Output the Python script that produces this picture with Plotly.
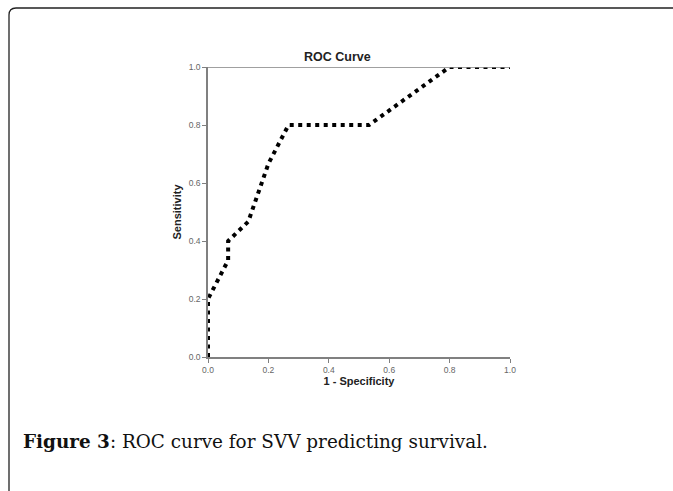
import plotly.graph_objects as go

# ROC curve data (1 - specificity, sensitivity)
fpr = [0.0, 0.0, 0.0667, 0.0667, 0.1333, 0.2, 0.2667, 0.5333, 0.8, 1.0]
tpr = [0.0, 0.2, 0.3333, 0.4, 0.4667, 0.6667, 0.8, 0.8, 1.0, 1.0]
tick_vals = [0.0, 0.2, 0.4, 0.6, 0.8, 1.0]
tick_text = ["0.0", "0.2", "0.4", "0.6", "0.8", "1.0"]

W, H = 673, 491
L, R, T, B = 208, 510, 67, 357  # plot area in pixels


def px(x):
    return (x - L) / (R - L)


def py(y):
    return (B - y) / (B - T)


fig = go.Figure()
fig.add_trace(go.Scatter(
    x=fpr, y=tpr, mode="lines",
    line=dict(color="black", width=4, dash="4px,4.5px"),
    cliponaxis=False, hoverinfo="skip", showlegend=False,
))

axis_common = dict(
    range=[0, 1], tickvals=tick_vals, ticktext=tick_text,
    showgrid=False, zeroline=False, showline=True,
    linecolor="#808080", linewidth=1.5,
    ticks="outside", ticklen=4, tickwidth=1, tickcolor="#808080",
    tickfont=dict(family="Liberation Sans", size=8.5, color="#666666"),
    fixedrange=True,
)
fig.update_xaxes(**axis_common,
                 title=dict(text="<b>1 - Specificity</b>", standoff=3,
                            font=dict(family="Liberation Sans", size=11, color="#222222")))
fig.update_yaxes(**axis_common,
                 title=dict(text="<b>Sensitivity</b>", standoff=5,
                            font=dict(family="Liberation Sans", size=11, color="#222222")))

# top frame line of the chart
fig.add_shape(type="line", xref="x", yref="y", x0=0, x1=1, y0=1, y1=1,
              line=dict(color="#808080", width=1.5))

# outer rounded border (partial box)
x0b, y0b, r = 9, 8, 7
path = (f"M {px(x0b)} {py(H + 5)} L {px(x0b)} {py(y0b + r)} "
        f"Q {px(x0b)} {py(y0b)} {px(x0b + r)} {py(y0b)} L {px(W + 5)} {py(y0b)}")
fig.add_shape(type="path", xref="paper", yref="paper", path=path,
              line=dict(color="#222222", width=1.3))

# chart title
fig.add_annotation(xref="paper", yref="paper", x=px(337), y=py(57),
                   text="<b>ROC Curve</b>", showarrow=False,
                   font=dict(family="Liberation Sans", size=12.5, color="#222222"),
                   xanchor="center", yanchor="middle")

# figure caption
fig.add_annotation(xref="paper", yref="paper", x=px(21), y=py(441),
                   text="<b>Figure 3</b>: ROC curve for SVV predicting survival.",
                   showarrow=False,
                   font=dict(family="DejaVu Serif", size=18.4, color="#111111"),
                   xanchor="left", yanchor="middle")

fig.update_layout(
    width=W, height=H,
    margin=dict(l=L, r=W - R, t=T, b=H - B),
    paper_bgcolor="white", plot_bgcolor="white",
    showlegend=False,
)

fig.write_html("out.html", config={"displayModeBar": False},
               post_script="document.body.style.margin='0';")
